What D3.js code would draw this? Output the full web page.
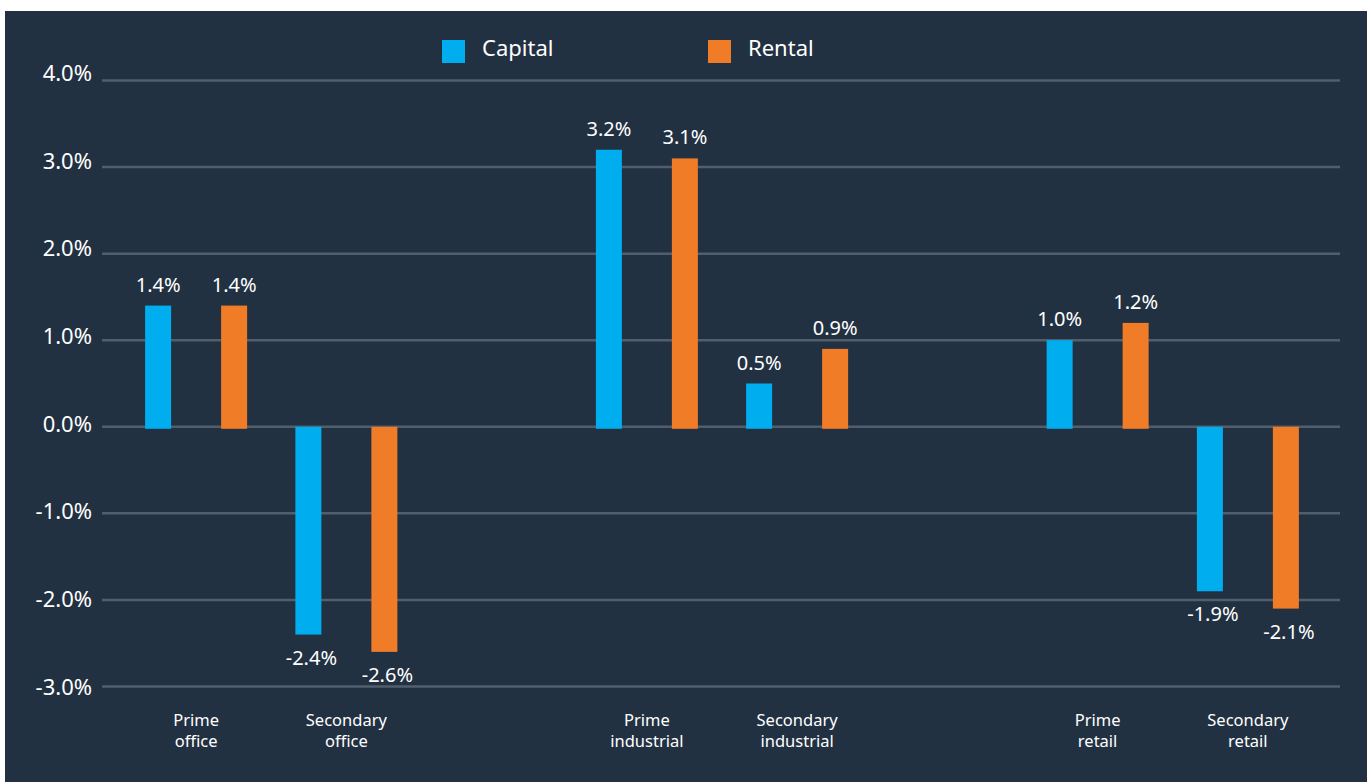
<!DOCTYPE html>
<html>
<head>
<meta charset="utf-8">
<script src="https://cdn.jsdelivr.net/npm/d3@7/dist/d3.min.js"></script>
<style>
  html, body { margin: 0; padding: 0; background: #ffffff; }
  svg { display: block; }
  text { font-family: "Noto Sans", "Open Sans", sans-serif; fill: #ffffff; }
</style>
</head>
<body>
<svg id="chart" width="1370" height="782"></svg>
<script>
// Sector categories (blank slots separate office / industrial / retail groups)
const categories = ["Prime office", "Secondary office", "", "Prime industrial", "Secondary industrial", " ", "Prime retail", "Secondary retail"];
const categoryLines = [["Prime", "office"], ["Secondary", "office"], [], ["Prime", "industrial"], ["Secondary", "industrial"], [], ["Prime", "retail"], ["Secondary", "retail"]];
const seriesNames = ["Capital", "Rental"];
const capital = [1.4, -2.4, null, 3.2, 0.5, null, 1.0, -1.9];
const rental  = [1.4, -2.6, null, 3.1, 0.9, null, 1.2, -2.1];
const yTicks = [4, 3, 2, 1, 0, -1, -2, -3];

const colors = { Capital: "#00aeef", Rental: "#f07c28" };

// Percent label with a plain hyphen for negatives
const pct = v => d3.format(".1f")(v).replace("\u2212", "-") + "%";

const svg = d3.select("#chart");
const W = 1370, H = 782;

// Panel background
svg.append("rect").attr("x", 5).attr("y", 11).attr("width", W - 8).attr("height", H - 11).attr("fill", "#223142");

const y = d3.scaleLinear().domain([-3, 4]).range([686.5, 80.5]);
// Tick labels are spread a little wider than the gridlines
const yLabel = d3.scaleLinear().domain([-3, 4]).range([694.5, 81]);
const x0 = d3.scaleBand().domain(categories).range([121, 1323]).paddingInner(0);
const x1 = d3.scaleBand().domain(seriesNames).range([-76, 76]).padding(0);
const barW = 26;

// Gridlines and y tick labels
const grid = svg.append("g");
grid.selectAll("line").data(yTicks).join("line")
  .attr("x1", 102).attr("x2", 1340)
  .attr("y1", d => y(d)).attr("y2", d => y(d))
  .attr("stroke", "#525e6c").attr("stroke-width", 2.5);
grid.selectAll("text").data(yTicks).join("text")
  .attr("x", 92).attr("y", d => yLabel(d))
  .attr("text-anchor", "end")
  .attr("font-size", 22)
  .text(d => pct(d));

// Bars
const rows = [];
categories.forEach((c, i) => {
  if (capital[i] !== null) rows.push({ cat: c, s: "Capital", v: capital[i] });
  if (rental[i] !== null) rows.push({ cat: c, s: "Rental", v: rental[i] });
});
const cx = d => x0(d.cat) + x0.bandwidth() / 2 + x1(d.s) + x1.bandwidth() / 2;

svg.append("g").selectAll("rect").data(rows).join("rect")
  .attr("x", d => cx(d) - barW / 2)
  .attr("width", barW)
  .attr("y", d => d.v >= 0 ? y(d.v) : y(0))
  .attr("height", d => d.v >= 0 ? y(0) - y(d.v) + 2 : y(d.v) - y(0))
  .attr("fill", d => colors[d.s]);

// Value labels
svg.append("g").selectAll("text").data(rows).join("text")
  .attr("x", d => cx(d) + (d.v < 0 ? 3 : 0))
  .attr("y", d => d.v >= 0 ? y(d.v) - 14 : y(d.v) + 30)
  .attr("text-anchor", "middle")
  .attr("font-size", 20)
  .text(d => pct(d.v));

// Category labels (two lines)
const cl = svg.append("g").selectAll("text").data(categories).join("text")
  .attr("text-anchor", "middle")
  .attr("font-size", 16.5)
  .attr("x", d => x0(d) + x0.bandwidth() / 2)
  .attr("y", 726);
cl.each(function(d, i) {
  d3.select(this).selectAll("tspan").data(categoryLines[i]).join("tspan")
    .attr("x", x0(d) + x0.bandwidth() / 2)
    .attr("dy", (t, j) => j === 0 ? 0 : 21)
    .text(t => t);
});

// Legend
const legendX = [442, 708];
const lg = svg.append("g").selectAll("g").data(seriesNames).join("g")
  .attr("transform", (d, i) => `translate(${legendX[i]},40)`);
lg.append("rect").attr("width", 23).attr("height", 23).attr("fill", d => colors[d]);
lg.append("text").attr("x", 40).attr("y", 16).attr("font-size", 22).text(d => d);
</script>
</body>
</html>
